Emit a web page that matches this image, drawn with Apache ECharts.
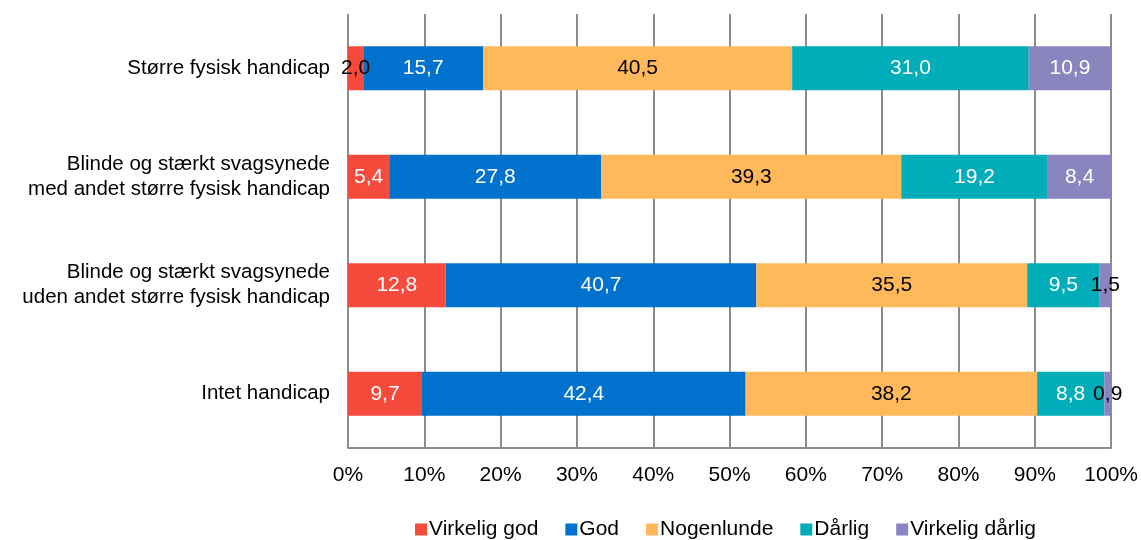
<!DOCTYPE html>
<html>
<head>
<meta charset="utf-8">
<script src="https://cdn.jsdelivr.net/npm/echarts@6/dist/echarts.min.js"></script>
<style>
  html, body { margin: 0; padding: 0; background: #fff; }
  #main { width: 1141px; height: 540px; }
</style>
</head>
<body>
<div id="main"></div>
<script>
var categories = [
  "Større fysisk handicap",
  "Blinde og stærkt svagsynede\nmed andet større fysisk handicap",
  "Blinde og stærkt svagsynede\nuden andet større fysisk handicap",
  "Intet handicap"
];
var virkeligGod = [2.0, 5.4, 12.8, 9.7];
var god = [15.7, 27.8, 40.7, 42.4];
var nogenlunde = [40.5, 39.3, 35.5, 38.2];
var daarlig = [31.0, 19.2, 9.5, 8.8];
var virkeligDaarlig = [10.9, 8.4, 1.5, 0.9];

var seriesNames = ["Virkelig god", "God", "Nogenlunde", "Dårlig", "Virkelig dårlig"];
var seriesData = [virkeligGod, god, nogenlunde, daarlig, virkeligDaarlig];
var colors = ["#F64B3C", "#0072CE", "#FFB85A", "#00ADB8", "#8A84BF"];
var labelColors = ["#fff", "#fff", "#000", "#fff", "#fff"];
var font = "'Liberation Sans', Arial, sans-serif";

function fmt(v) {
  return v.toFixed(1).replace(".", ",");
}

var chart = echarts.init(document.getElementById("main"));

var series = seriesNames.map(function (name, si) {
  return {
    name: name,
    type: "bar",
    stack: "total",
    barWidth: 44,
    itemStyle: { color: colors[si] },
    data: seriesData[si].map(function (v) {
      var item = { value: v };
      // tiny segments: dark label spilling outside the bar
      if (v < 2.5) {
        item.label = { color: "#000" };
      }
      return item;
    }),
    label: {
      show: true,
      position: "inside",
      color: labelColors[si],
      fontFamily: font,
      fontSize: 21,
      formatter: function (p) { return fmt(p.value); }
    }
  };
});

chart.setOption({
  animation: false,
  grid: { left: 348, right: 29, top: 14, bottom: 92, containLabel: false },
  legend: {
    top: 514,
    left: 410,
    itemWidth: 12,
    itemHeight: 12,
    itemGap: 27,
    icon: "rect",
    textStyle: { fontFamily: font, fontSize: 21, color: "#000", padding: [0, 0, 0, -3] },
    data: seriesNames
  },
  xAxis: {
    type: "value",
    min: 0,
    max: 100,
    interval: 10,
    axisLine: { show: true, lineStyle: { color: "#8c8c8c", width: 2 } },
    axisTick: { show: false },
    splitLine: { show: true, lineStyle: { color: "#8c8c8c", width: 2 } },
    axisLabel: {
      fontFamily: font,
      fontSize: 21,
      color: "#000",
      margin: 17,
      formatter: "{value}%"
    }
  },
  yAxis: {
    type: "category",
    inverse: true,
    data: categories,
    axisLine: { show: false },
    axisTick: { show: false },
    splitLine: { show: false },
    axisLabel: {
      fontFamily: font,
      fontSize: 20.5,
      color: "#000",
      margin: 18,
      lineHeight: 25,
      align: "right"
    }
  },
  series: series
});
</script>
</body>
</html>
